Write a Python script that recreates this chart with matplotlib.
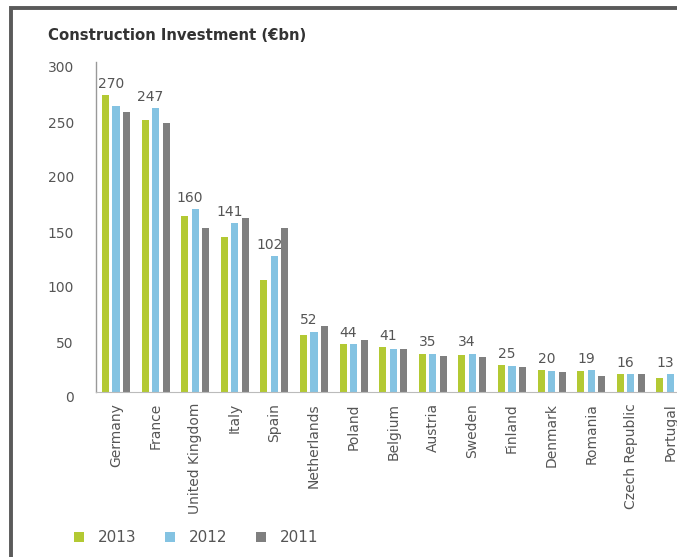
import numpy as np
import matplotlib.pyplot as plt
import matplotlib.transforms as mtransforms
from matplotlib.patches import Rectangle

countries = ['Germany', 'France', 'United Kingdom', 'Italy', 'Spain', 'Netherlands',
             'Poland', 'Belgium', 'Austria', 'Sweden', 'Finland', 'Denmark',
             'Romania', 'Czech Republic', 'Portugal']
v2013 = [270, 247, 160, 141, 102, 52, 44, 41, 35, 34, 25, 20, 19, 16, 13]
v2012 = [260, 258, 166, 154, 124, 55, 44, 39, 35, 35, 24, 19, 20, 16, 16]
v2011 = [255, 245, 149, 158, 149, 60, 47, 39, 33, 32, 23, 18, 15, 16, 14]

green = '#b3c933'
blue = '#84c3e2'
grey = '#7f7f7f'
txt = '#555555'

fig = plt.figure(figsize=(6.77, 5.57), dpi=100)
W, H = 677, 557

# outer frame, cut off on the right and bottom like the source image
fig.patches.append(Rectangle((11 / W, -0.05), 1.0, (H - 8) / H + 0.05,
                             transform=fig.transFigure, fill=False,
                             edgecolor='#5a5a5a', linewidth=2.8))

# axes: y-axis at x=96px, 0 at y=392px, 300 at y=62px; extends past right edge
px_per_grp = 39.6
x0 = -20 / px_per_grp
x1 = x0 + (W + 40 - 96) / px_per_grp
ax = fig.add_axes([96 / W, (H - 392) / H, (W + 40 - 96) / W, 330 / H])
ax.set_xlim(x0, x1)
ax.set_ylim(0, 300)

x = np.arange(len(countries))
pitch = 0.265
bw = 0.177
ax.bar(x - pitch, v2013, bw, color=green, label='2013', zorder=2)
ax.bar(x, v2012, bw, color=blue, label='2012', zorder=2)
ax.bar(x + pitch, v2011, bw, color=grey, label='2011', zorder=2)

for i in range(len(countries)):
    ax.text(x[i] - pitch / 2, max(v2013[i], v2012[i]) + 10, str(v2013[i]),
            ha='center', va='center', fontsize=10, color=txt)

for s in ['top', 'right']:
    ax.spines[s].set_visible(False)
ax.spines['left'].set_color('#999999')
ax.spines['bottom'].set_color('#bbbbbb')
ax.spines['left'].set_linewidth(1.0)

ax.set_yticks([0, 50, 100, 150, 200, 250, 300])
ax.tick_params(axis='y', length=0, pad=16, labelsize=10, labelcolor=txt)
# the source's y labels sit a few pixels low
shift = mtransforms.ScaledTranslation(0, -5 / 100, fig.dpi_scale_trans)
for lab in ax.get_yticklabels():
    lab.set_transform(lab.get_transform() + shift)
ax.set_xticks(x)
ax.set_xticklabels(countries, rotation=90, fontsize=10, color=txt)
ax.tick_params(axis='x', length=0, pad=8)

fig.text(48 / W, 1 - 36 / H, 'Construction Investment (€bn)', fontsize=10.7,
         fontweight='bold', color='#333333', va='center', ha='left')

leg = fig.legend(handles=ax.containers, labels=['2013', '2012', '2011'],
                 loc='center left', bbox_to_anchor=(60 / W, 1 - 538 / H), ncol=3,
                 frameon=False, fontsize=11, handlelength=0.65, handleheight=0.65,
                 columnspacing=1.9, handletextpad=0.9)
for t in leg.get_texts():
    t.set_color(txt)

fig.savefig('out.png', dpi=100)
